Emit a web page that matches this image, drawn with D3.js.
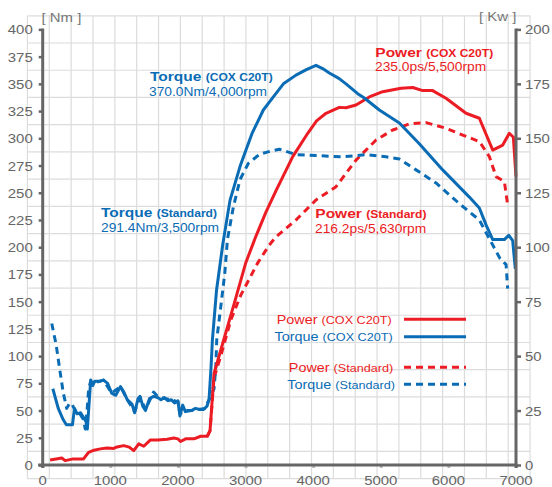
<!DOCTYPE html>
<html>
<head>
<meta charset="utf-8">
<script src="https://cdn.jsdelivr.net/npm/d3@7"></script>
<style>
  body { margin: 0; background: #fff; }
  svg { display: block; font-family: "Liberation Sans", Arial, sans-serif; }
</style>
</head>
<body>
<svg id="chart" width="552" height="487"></svg>
<script>
// [rpm, Nm]
const torqueCox = [
  [150,70],[230,52],[300,42],[350,37],[440,37],[470,52],[510,47],[560,48],[600,44],[640,40],[660,33],
  [690,60],[710,78],[740,73],[770,77],[850,77],[900,78],[960,75],[1020,66],[1080,64],[1150,72],[1200,67],
  [1250,60],[1320,56],[1360,48],[1410,61],[1440,63],[1480,54],[1520,50],[1580,61],[1640,63],[1700,62],
  [1750,60],[1800,62],[1850,59],[1900,60],[1950,57],[2000,59],[2030,45],[2070,55],[2110,49],[2200,50],
  [2260,52],[2320,51],[2380,51],[2430,54],[2460,60],[2490,90],[2510,115],[2570,160],[2662,202],[2770,243],
  [2918,274],[3017,291],[3100,305],[3263,326],[3411,338],[3560,350],[3746,358],[3900,363],[4042,367],
  [4140,364],[4239,360],[4380,355],[4486,350],[4659,341],[4757,337],[4979,326],[5275,314],[5570,295],
  [5916,271],[6310,246],[6458,236],[6560,220],[6656,207],[6828,207],[6892,211],[6951,206],[6990,180]
];
const torqueStd = [
  [134,130],[200,110],[256,86],[305,66],[355,52],[400,57],[440,55],[480,50],[540,48],[600,42],[630,33],
  [650,45],[680,70],[710,77],[750,75],[850,77],[900,78],[1020,66],[1150,72],[1250,60],[1360,49],[1440,62],
  [1520,51],[1640,67],[1700,63],[1800,61],[1900,60],[2000,58],[2030,47],[2100,50],[2200,50],[2300,51],
  [2400,52],[2460,60],[2534,70],[2560,90],[2574,115],[2633,145],[2693,176],[2732,207],[2820,237],
  [2918,262],[3041,277],[3214,285.6],[3362,288],[3500,290],[3746,285],[4091,284],[4437,283],[4782,285],
  [5078,283],[5275,281],[5522,271],[5817,259],[6162,240],[6458,225],[6656,202],[6760,190],[6853,184],[6877,162]
];
// [rpm, kW]
const powerCox = [
  [109,2.3],[200,2.8],[282,3.2],[332,2],[450,2.8],[604,2.8],[678,5.8],[760,6.8],[851,7.4],[950,7.8],
  [1049,7.6],[1100,8.3],[1198,8.9],[1280,8.2],[1346,6.6],[1421,9.7],[1495,8.6],[1594,11.5],[1700,11.5],
  [1841,11.8],[1940,12.4],[2000,12],[2039,10.8],[2114,12],[2237,12],[2336,13.2],[2435,13.2],[2475,15.8],
  [2534,42],[2633,52.7],[2831,74],[3005,93],[3153,105],[3300,116],[3451,126],[3698,141.6],[3920,152.3],
  [4050,158],[4190,161.5],[4387,164.2],[4486,164],[4634,165.3],[4831,169],[5028,171.4],[5300,173],
  [5473,173.3],[5620,171.9],[5767,171.9],[5965,168.4],[6261,161.5],[6458,159.2],[6656,144.6],[6804,146.9],
  [6901,152.3],[6961,150.5],[7000,132.4]
];
const powerStd = [
  [2435,13.2],[2475,15.8],[2534,40],[2633,50],[2782,66.6],[2930,78],[3178,92.7],[3351,101],[3451,104.8],
  [3746,112.5],[4042,121.7],[4338,127.8],[4634,140],[4930,149.2],[5177,153.8],[5423,156.6],[5669,157.2],
  [5965,154.6],[6212,151.5],[6458,148.5],[6606,141.6],[6705,132.4],[6828,130.1],[6877,119.4]
];

const xTicks = [0,1000,2000,3000,4000,5000,6000,7000];
const yTicksNm = d3.range(0, 401, 25);
const yTicksKw = d3.range(0, 201, 25);
const gridRpm = d3.range(24).map(i => -226 + i * 323.2);
const gridNm = d3.range(18).map(i => -12.5 + i * 25);

const RED = "#ec1c24", BLUE = "#0a6cb5", AXIS = "#666", TXT = "#666";
const SX = 1.15;

const svg = d3.select("#chart");
const x = d3.scaleLinear().domain([0, 7000]).range([42.7, 516]);
const y = d3.scaleLinear().domain([0, 400]).range([465, 29.4]);
const yKw = d3.scaleLinear().domain([0, 200]).range([465, 29.4]);

function label(g, px, py, parts, anchor, color) {
  const t = g.append("text")
    .attr("transform", `translate(${px},${py}) scale(${SX},1)`)
    .attr("text-anchor", anchor || "start")
    .attr("fill", color);
  parts.forEach(p => t.append("tspan")
    .attr("font-size", p.size)
    .attr("font-weight", p.bold ? "bold" : "normal")
    .text(p.text));
  return t;
}

// background grid
const grid = svg.append("g").attr("stroke", "#dcdcdc").attr("stroke-width", 1.2);
grid.selectAll("line.v").data(gridRpm).join("line").attr("class", "v")
  .attr("x1", d => x(d)).attr("x2", d => x(d))
  .attr("y1", y(d3.min(gridNm))).attr("y2", y(d3.max(gridNm)));
grid.selectAll("line.h").data(gridNm).join("line").attr("class", "h")
  .attr("y1", d => y(d)).attr("y2", d => y(d))
  .attr("x1", x(d3.min(gridRpm))).attr("x2", x(d3.max(gridRpm)));

// curves
const lineNm = d3.line().x(d => x(d[0])).y(d => y(d[1]));
const lineKw = d3.line().x(d => x(d[0])).y(d => yKw(d[1]));
const curves = svg.append("g").attr("fill", "none").attr("stroke-width", 3)
  .attr("stroke-linejoin", "round");
curves.append("path").attr("d", lineKw(powerStd)).attr("stroke", RED).attr("stroke-dasharray", "7,5");
curves.append("path").attr("d", lineNm(torqueStd)).attr("stroke", BLUE).attr("stroke-dasharray", "7,5");
curves.append("path").attr("d", lineKw(powerCox)).attr("stroke", RED);
curves.append("path").attr("d", lineNm(torqueCox)).attr("stroke", BLUE);

// axes
const gx = svg.append("g").attr("transform", `translate(0,${y(0)})`)
  .call(d3.axisBottom(x).tickValues(xTicks).tickSize(3).tickSizeOuter(0).tickFormat(""));
gx.select(".domain").remove();
gx.selectAll(".tick line").attr("stroke", "#bbb").attr("stroke-width", 3).attr("y1", 1);
svg.append("line").attr("x1", x(0) - 4.5).attr("x2", x(7000) + 1.5)
  .attr("y1", y(0)).attr("y2", y(0)).attr("stroke", AXIS).attr("stroke-width", 3);

const gl = svg.append("g").attr("transform", `translate(${x(0)},0)`)
  .call(d3.axisLeft(y).tickValues(yTicksNm).tickSize(4).tickSizeOuter(0).tickFormat(""));
gl.select(".domain").remove();
gl.selectAll(".tick line").attr("stroke", AXIS).attr("stroke-width", 2.5);
svg.append("line").attr("x1", x(0)).attr("x2", x(0)).attr("y1", y(400) - 1).attr("y2", y(0) + 3)
  .attr("stroke", AXIS).attr("stroke-width", 3);

const gr = svg.append("g").attr("transform", `translate(${x(7000)},0)`)
  .call(d3.axisRight(yKw).tickValues(yTicksKw).tickSize(5).tickSizeOuter(0).tickFormat(""));
gr.select(".domain").remove();
gr.selectAll(".tick line").attr("stroke", AXIS).attr("stroke-width", 2.5);
svg.append("line").attr("x1", x(7000)).attr("x2", x(7000)).attr("y1", yKw(200) - 1).attr("y2", yKw(0) + 3)
  .attr("stroke", AXIS).attr("stroke-width", 3);

// tick labels
const labels = svg.append("g");
yTicksNm.forEach(v => label(labels, x(0) - 10, y(v) + 5, [{ text: v, size: 13 }], "end", TXT));
yTicksKw.forEach(v => label(labels, x(7000) + 9, yKw(v) + 5, [{ text: v, size: 13 }], "start", TXT));
xTicks.forEach(v => label(labels, x(v), 485, [{ text: v, size: 13 }], "middle", TXT));
label(labels, 41.5, 22, [{ text: "[ Nm ]", size: 13 }], "start", "#777");
label(labels, 479, 21, [{ text: "[ Kw ]", size: 13 }], "start", "#777");

// annotations
const ann = svg.append("g");
label(ann, 150, 81, [{ text: "Torque ", size: 13.5, bold: true }, { text: "(COX C20T)", size: 10.5, bold: true }], "start", BLUE);
label(ann, 149, 95.7, [{ text: "370.0Nm/4,000rpm", size: 12 }], "start", BLUE);
label(ann, 101, 216.7, [{ text: "Torque ", size: 13.5, bold: true }, { text: "(Standard)", size: 10.5, bold: true }], "start", BLUE);
label(ann, 101, 231.7, [{ text: "291.4Nm/3,500rpm", size: 12 }], "start", BLUE);
label(ann, 375.3, 56.7, [{ text: "Power ", size: 13.5, bold: true }, { text: "(COX C20T)", size: 10.5, bold: true }], "start", RED);
label(ann, 375, 70.7, [{ text: "235.0ps/5,500rpm", size: 12 }], "start", RED);
label(ann, 315.3, 218.3, [{ text: "Power ", size: 13.5, bold: true }, { text: "(Standard)", size: 10.5, bold: true }], "start", RED);
label(ann, 315, 232.7, [{ text: "216.2ps/5,630rpm", size: 12 }], "start", RED);

// legend
const legendItems = [
  { name: "Power ", sub: "(COX C20T)", color: RED, dash: null, ly: 319.3, tx: 391.7 },
  { name: "Torque ", sub: "(COX C20T)", color: BLUE, dash: null, ly: 336.7, tx: 392.7 },
  { name: "Power ", sub: "(Standard)", color: RED, dash: "7,5", ly: 367.3, tx: 393.3 },
  { name: "Torque ", sub: "(Standard)", color: BLUE, dash: "7,5", ly: 384.3, tx: 395 },
];
const leg = svg.append("g");
legendItems.forEach(it => {
  label(leg, it.tx, it.ly + 4.2, [{ text: it.name, size: 12.5 }, { text: it.sub, size: 11 }], "end", it.color);
  leg.append("line").attr("x1", 404).attr("x2", 466).attr("y1", it.ly).attr("y2", it.ly)
    .attr("stroke", it.color).attr("stroke-width", 3)
    .attr("stroke-dasharray", it.dash);
});
</script>
</body>
</html>
